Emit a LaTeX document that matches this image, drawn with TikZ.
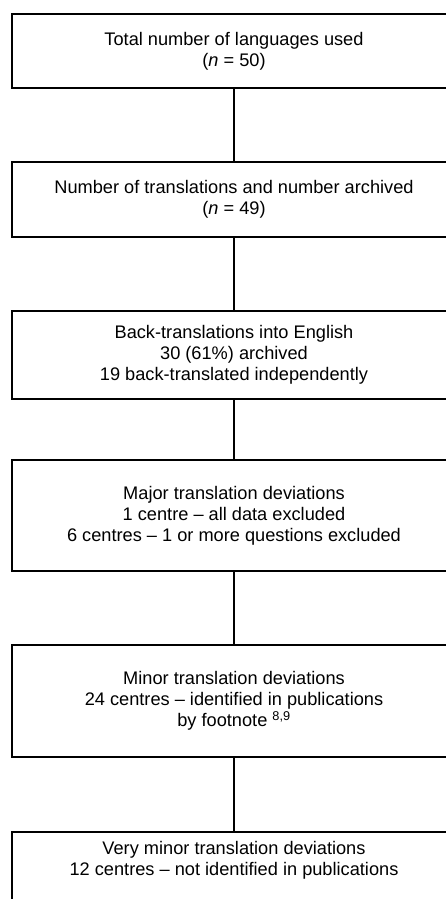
\documentclass[tikz,border=0pt]{standalone}
\usepackage{fontspec}
\setmainfont{Liberation Sans}
\begin{document}
\begin{tikzpicture}[x=1pt,y=1pt,every node/.style={font=\fontsize{18.2}{20.8}\selectfont},box/.style={draw,line width=1.6pt,minimum width=444,align=center},line width=1.6pt]
\useasboundingbox (0,0) rectangle (446,-899);
\clip (0,0) rectangle (446,-899);
\node[box,minimum height=74] (n1) at (234,-51) {Total number of languages used\\(\textit{n} = 50)};
\node[box,minimum height=75] (n2) at (234,-199.5) {Number of translations and number archived\\(\textit{n} = 49)};
\node[box,minimum height=88] (n3) at (234,-355) {Back-translations into English\\30 (61\%) archived\\19 back-translated independently};
\node[box,minimum height=111] (n4) at (234,-515.5) {Major translation deviations\\1 centre -- all data excluded\\6 centres -- 1 or more questions excluded};
\node[box,minimum height=112] (n5) at (234,-701) {Minor translation deviations\\24 centres -- identified in publications\\by footnote \textsuperscript{8,9}};
\node[box,anchor=north,inner ysep=10,text depth=70] (n6) at (234,-831) {Very minor translation deviations\\12 centres -- not identified in publications};
\draw (n1)--(n2); \draw (n2)--(n3); \draw (n3)--(n4); \draw (n4)--(n5); \draw (n5)--(n6);
\end{tikzpicture}
\end{document}
